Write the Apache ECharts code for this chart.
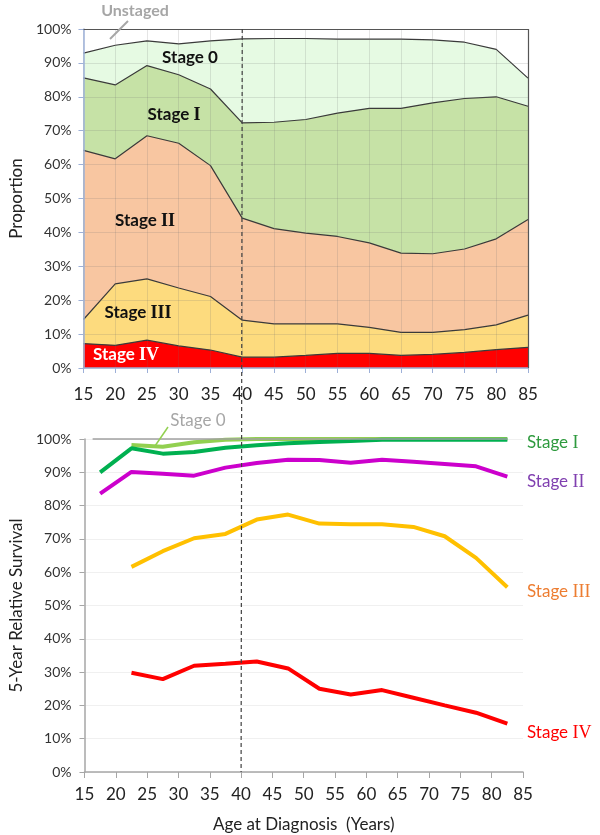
<!DOCTYPE html>
<html>
<head>
<meta charset="utf-8">
<script src="https://cdn.jsdelivr.net/npm/echarts@6/dist/echarts.min.js"></script>
<style>html,body{margin:0;padding:0;background:#fff}#c{width:600px;height:835px}</style>
</head>
<body>
<div id="c"></div>
<script>
// ---- Top chart: proportion of cases by stage (each stage's share, %) ----
const ages = [15,20,25,30,35,40,45,50,55,60,65,70,75,80,85];
const propStageIV  = [7.2,6.7,8.2,6.5,5.3,3.2,3.2,3.7,4.3,4.3,3.7,4.0,4.6,5.4,6.1];
const propStageIII = [7.1,18.1,18.1,17.1,15.8,10.9,9.8,9.3,8.7,7.7,6.8,6.5,6.7,7.3,9.5];
const propStageII  = [49.9,36.9,42.2,42.7,38.6,30.1,28.1,26.8,25.8,24.9,23.4,23.2,23.8,25.4,28.2];
const propStageI   = [21.4,21.8,20.7,20.2,22.6,28.1,31.4,33.5,36.4,39.7,42.7,44.5,44.4,41.9,33.4];
const propStage0   = [7.3,11.7,7.3,9.1,14.2,24.8,24.7,23.9,21.8,20.4,20.4,18.6,16.6,14.0,8.3];
const propUnstaged = [7.1,4.8,3.5,4.4,3.5,2.9,2.8,2.8,3.0,3.0,3.0,3.2,3.9,6.0,14.5];

// ---- Bottom chart: 5-year relative survival (%) ----
const survAges = [17.5,22.5,27.5,32.5,37.5,42.5,47.5,52.5,57.5,62.5,67.5,72.5,77.5,82.5];
const survStage0   = [null,98.2,97.7,99.0,99.8,100,100,100,100,100,100,100,100,100];
const survStageI   = [90.0,97.2,95.6,96.1,97.4,98.1,98.7,99.1,99.4,99.8,99.8,99.8,99.8,99.8];
const survStageII  = [83.6,90.1,89.6,89.0,91.4,92.8,93.8,93.7,92.9,93.8,93.2,92.5,91.8,88.7];
const survStageIII = [null,61.6,66.3,70.2,71.5,75.8,77.3,74.6,74.4,74.4,73.6,70.8,64.3,55.5];
const survStageIV  = [null,29.8,27.9,31.9,32.5,33.2,31.1,25.0,23.3,24.6,22.3,20.0,17.8,14.5];

const FONT = 'Lato';
const pair = (xs, ys) => xs.map((x, i) => [x, ys[i]]);

// cumulative stacking (bottom -> top)
const layers = [
  {name: 'Stage IV', data: propStageIV, color: '#FF0000', lw: 1.2},
  {name: 'Stage III', data: propStageIII, color: '#FDDB7E', lw: 1.2},
  {name: 'Stage II', data: propStageII, color: '#F8C6A1', lw: 1.2},
  {name: 'Stage I', data: propStageI, color: '#C6E2A6', lw: 1.2},
  {name: 'Stage 0', data: propStage0, color: '#E6FAE3', lw: 1.2},
  {name: 'Unstaged', data: propUnstaged, color: '#FFFFFF', lw: 0}
];
let running = ages.map(() => 0);
layers.forEach(l => {
  running = running.map((v, i) => v + l.data[i]);
  l.top = running.slice();
});

const areaSeries = layers.slice().reverse().map((l, k) => ({
  name: l.name, type: 'line', xAxisIndex: 0, yAxisIndex: 0,
  data: pair(ages, l.top), symbol: 'none', smooth: false,
  lineStyle: {color: '#3a3a3a', width: l.lw},
  areaStyle: {color: l.color, opacity: 1, origin: 'start'}, z: 2
}));
// borders of plot area (top and right)
areaSeries[areaSeries.length - 1].markLine = {
  silent: true, symbol: 'none', label: {show: false},
  lineStyle: {color: '#555', type: 'solid', width: 1.2},
  data: [[{coord: [15, 100]}, {coord: [85, 100]}], [{coord: [85, 0]}, {coord: [85, 100]}]]
};

const chart = echarts.init(document.getElementById('c'), null, {renderer: 'canvas'});

chart.setOption({
  animation: false,
  textStyle: {fontFamily: FONT},
  grid: [
    {left: 73, right: 72, top: 29, bottom: 467},
    {left: 72, right: 77, top: 439, bottom: 63}
  ],
  xAxis: [
    {gridIndex: 0, type: 'value', min: 15, max: 85, interval: 5, z: 3,
     axisLine: {lineStyle: {color: '#9DB0D8', width: 1.5}},
     axisTick: {show: true, length: 5, lineStyle: {color: '#9DB0D8'}},
     axisLabel: {fontFamily: FONT, fontSize: 17, color: '#222', margin: 18},
     splitLine: {show: true, lineStyle: {color: 'rgba(110,110,110,0.18)', width: 1}}},
    {gridIndex: 1, type: 'value', min: 15, max: 85, interval: 5,
     name: 'Age at Diagnosis  (Years)', nameLocation: 'middle', nameGap: 44,
     nameTextStyle: {fontFamily: FONT, fontSize: 17, color: '#222'},
     axisLine: {lineStyle: {color: '#A6A6A6', width: 1.5}},
     axisTick: {show: true, length: 6, lineStyle: {color: '#A6A6A6'}},
     axisLabel: {fontFamily: FONT, fontSize: 17, color: '#222', margin: 14},
     splitLine: {show: false}}
  ],
  yAxis: [
    {gridIndex: 0, type: 'value', min: 0, max: 100, interval: 10, z: 3,
     name: 'Proportion', nameLocation: 'middle', nameGap: 50, nameRotate: 90,
     nameTextStyle: {fontFamily: FONT, fontSize: 17, color: '#222'},
     axisLine: {show: true, lineStyle: {color: '#9DB0D8', width: 1.5}},
     axisTick: {show: true, length: 5, lineStyle: {color: '#9DB0D8'}},
     axisLabel: {fontFamily: FONT, fontSize: 14, color: '#333', margin: 12, formatter: '{value}%'},
     splitLine: {show: true, lineStyle: {color: 'rgba(110,110,110,0.18)', width: 1}}},
    {gridIndex: 1, type: 'value', min: 0, max: 100, interval: 10,
     name: '5-Year Relative Survival', nameLocation: 'middle', nameGap: 52, nameRotate: 90,
     nameTextStyle: {fontFamily: FONT, fontSize: 17, color: '#222'},
     axisLine: {show: true, lineStyle: {color: '#A6A6A6', width: 1.5}},
     axisTick: {show: true, length: 5, lineStyle: {color: '#A6A6A6'}},
     axisLabel: {fontFamily: FONT, fontSize: 14, color: '#333', margin: 13, formatter: '{value}%'},
     splitLine: {show: true, lineStyle: {color: '#F0F0F0', width: 1}}}
  ],
  series: areaSeries.concat([
    {name: 'ref100', type: 'line', xAxisIndex: 1, yAxisIndex: 1, data: [],
     markLine: {silent: true, symbol: 'none', label: {show: false},
       lineStyle: {color: '#A0A0A0', type: 'solid', width: 1.5},
       data: [[{coord: [16.3, 100]}, {coord: [82.5, 100]}]]}},
    {name: 'S0', type: 'line', xAxisIndex: 1, yAxisIndex: 1, data: pair(survAges, survStage0),
     symbol: 'none', lineStyle: {color: '#92D050', width: 4}},
    {name: 'SI', type: 'line', xAxisIndex: 1, yAxisIndex: 1, data: pair(survAges, survStageI),
     symbol: 'none', lineStyle: {color: '#00B050', width: 4}},
    {name: 'SII', type: 'line', xAxisIndex: 1, yAxisIndex: 1, data: pair(survAges, survStageII),
     symbol: 'none', lineStyle: {color: '#CC00CC', width: 4}},
    {name: 'SIII', type: 'line', xAxisIndex: 1, yAxisIndex: 1, data: pair(survAges, survStageIII),
     symbol: 'none', lineStyle: {color: '#FFC000', width: 4}},
    {name: 'SIV', type: 'line', xAxisIndex: 1, yAxisIndex: 1, data: pair(survAges, survStageIV),
     symbol: 'none', lineStyle: {color: '#FF0000', width: 4}}
  ])
});

const p1 = chart.convertToPixel({xAxisIndex: 0, yAxisIndex: 0}, [40, 100]);
const p2 = chart.convertToPixel({xAxisIndex: 1, yAxisIndex: 1}, [40, 0]);

function stageText(x, y, num, color, bold, size, align) {
  const w = bold ? 'bold' : 'normal';
  return {
    type: 'text', x, y, z: 20,
    style: {
      text: '{a|Stage }{b|' + num + '}',
      align: align || 'center', verticalAlign: 'middle',
      rich: {
        a: {fontFamily: FONT, fontWeight: w, fontSize: size, fill: color},
        b: {fontFamily: (num === '0' ? FONT : 'Liberation Serif'), fontWeight: w, fontSize: size + (num === '0' ? 0 : 1), fill: color}
      }
    }
  };
}

chart.setOption({
  graphic: [
    {type: 'line', z: 15, shape: {x1: p1[0], y1: p1[1], x2: p2[0], y2: p2[1]},
     style: {stroke: '#404040', lineWidth: 1.2, lineDash: [4, 3]}},
    {type: 'text', x: 135, y: 11, z: 20,
     style: {text: 'Unstaged', fontFamily: FONT, fontWeight: 'bold', fontSize: 16, fill: '#A6A6A6', align: 'center', verticalAlign: 'middle'}},
    {type: 'line', z: 20, shape: {x1: 110, y1: 39, x2: 128, y2: 21}, style: {stroke: '#A6A6A6', lineWidth: 2}},
    stageText(190, 58, '0', '#111', true, 17),
    stageText(174, 115, 'I', '#111', true, 17),
    stageText(145, 221, 'II', '#111', true, 17),
    stageText(138, 313, 'III', '#111', true, 17),
    stageText(126, 355, 'IV', '#FFFFFF', true, 17),
    {type: 'text', x: 198, y: 421, z: 20,
     style: {text: 'Stage 0', fontFamily: FONT, fontSize: 17, fill: '#A6A6A6', align: 'center', verticalAlign: 'middle'}},
    {type: 'line', z: 20, shape: {x1: 155, y1: 446, x2: 168, y2: 427}, style: {stroke: '#92D050', lineWidth: 1.5}},
    stageText(527, 443, 'I', '#2E9A3E', false, 17, 'left'),
    stageText(527, 482, 'II', '#8040B0', false, 17, 'left'),
    stageText(527, 592, 'III', '#ED7D31', false, 17, 'left'),
    stageText(527, 733, 'IV', '#FF0000', false, 17, 'left')
  ]
});
</script>
</body>
</html>
